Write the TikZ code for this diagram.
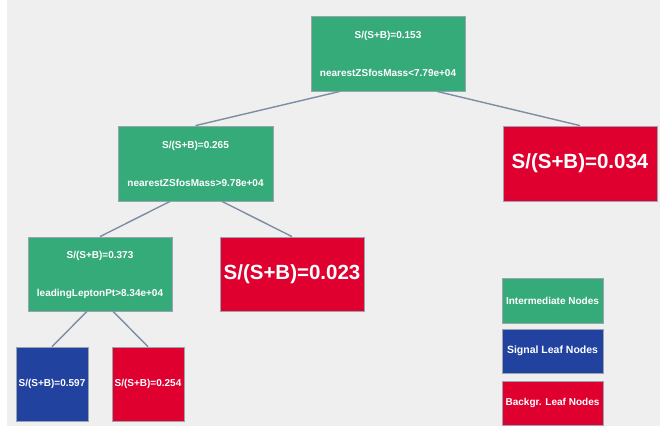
\documentclass[tikz,border=0pt]{standalone}
\usepackage{fontspec}
\setmainfont{Liberation Sans}
\definecolor{bgpanel}{HTML}{EFEFEF}
\definecolor{interm}{HTML}{36AB7A}
\definecolor{sigleaf}{HTML}{2242A0}
\definecolor{bkgleaf}{HTML}{DF0030}
\definecolor{edgecol}{HTML}{7D8DA3}
\definecolor{boxline}{HTML}{9AA3AE}
\tikzset{
  box/.style={draw=boxline, line width=0.8pt, inner sep=0pt, text=white,
    font=\bfseries\fontsize{10}{12}\selectfont},
  inode/.style={box, fill=interm},
  sleaf/.style={box, fill=sigleaf},
  bleaf/.style={box, fill=bkgleaf},
  bigtxt/.style={font=\bfseries\fontsize{20.5}{24}\selectfont},
  lbl/.style={anchor=base, text=white, inner sep=0pt,
    font=\bfseries\fontsize{10}{12}\selectfont},
  edge/.style={draw=edgecol, line width=1.4pt},
}
\begin{document}
\begin{tikzpicture}[x=1pt, y=-1pt]
  \useasboundingbox (0,0) rectangle (660,431);
  \fill[bgpanel] (7,0) rectangle (660,426);

  % decision tree boxes
  \node[inode, minimum width=154pt, minimum height=75pt] (root) at (388,53.5) {};
  \node[inode, minimum width=155pt, minimum height=75pt] (n2) at (195.5,163.5) {};
  \node[inode, minimum width=144pt, minimum height=74pt] (n3) at (100,274) {};
  \node[bleaf, bigtxt, minimum width=154pt, minimum height=75pt] (l034) at (580,163.5) {S/(S+B)=0.034};
  \node[bleaf, bigtxt, minimum width=144pt, minimum height=74pt] (l023) at (292,274) {S/(S+B)=0.023};
  \node[sleaf, minimum width=72pt, minimum height=74pt] (l597) at (52,384) {S/(S+B)=0.597};
  \node[bleaf, minimum width=72pt, minimum height=74pt] (l254) at (148,384) {S/(S+B)=0.254};

  % two-line labels of the intermediate nodes
  \node[lbl] (root1) at (388,38.6) {S/(S+B)=0.153};
  \node[lbl] (root2) at (388,76.6) {nearestZSfosMass<7.79e+04};
  \node[lbl] (n2a) at (195.5,148.6) {S/(S+B)=0.265};
  \node[lbl] (n2b) at (195.5,186.6) {nearestZSfosMass>9.78e+04};
  \node[lbl] (n3a) at (100,258.6) {S/(S+B)=0.373};
  \node[lbl] (n3b) at (100,296.6) {leadingLeptonPt>8.34e+04};

  % connectors
  \draw[edge] ([xshift=-48pt]root.south) -- (n2.north);
  \draw[edge] ([xshift=49pt]root.south) -- (l034.north);
  \draw[edge] ([xshift=-25.5pt]n2.south) -- (n3.north);
  \draw[edge] ([xshift=26.5pt]n2.south) -- (l023.north);
  \draw[edge] ([xshift=-13pt]n3.south) -- (l597.north);
  \draw[edge] ([xshift=13pt]n3.south) -- (l254.north);

  % legend
  \node[inode, minimum width=101pt, minimum height=45pt] (leg1) at (552.5,300.5) {Intermediate Nodes};
  \node[sleaf, minimum width=101pt, minimum height=44pt, font=\bfseries\fontsize{10.5}{12}\selectfont] (leg2) at (552.5,351) {Signal Leaf Nodes};
  \node[bleaf, minimum width=101pt, minimum height=44pt] (leg3) at (552.5,403) {Backgr. Leaf Nodes};
\end{tikzpicture}
\end{document}
